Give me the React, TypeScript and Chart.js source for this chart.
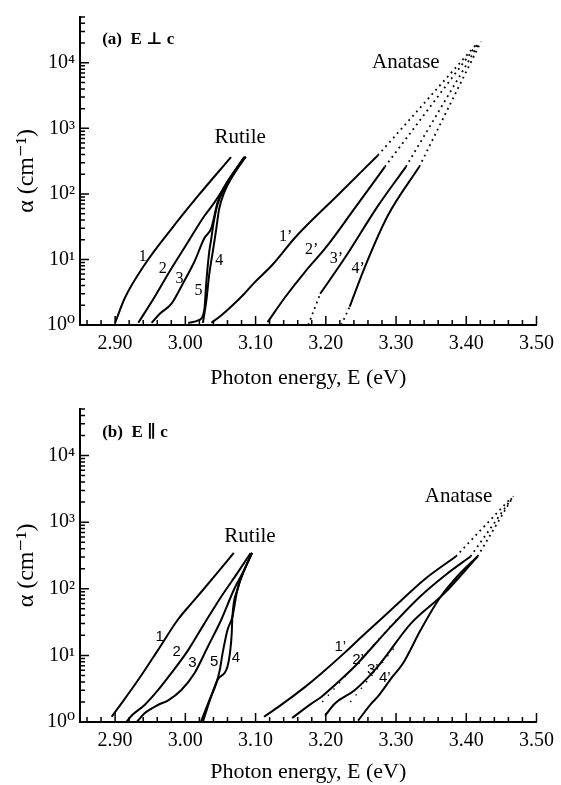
import React, { useEffect, useRef } from "react";
import { Chart, registerables } from "chart.js";

Chart.register(...registerables);

type P = [number, number];

// ---------------- axes ----------------
const xTickValues = [2.9, 3.0, 3.1, 3.2, 3.3, 3.4, 3.5];
const yTickValues = [1, 10, 100, 1000, 10000];
const yTickLabels = ["10⁰", "10¹", "10²", "10³", "10⁴"];
const xTitle = "Photon energy, E (eV)";
const yTitle = "α (cm⁻¹)";

// ---------------- panel (a) E ⊥ c ----------------
const aRutile1: P[] = [[2.9, 1.08], [2.914, 2.6], [2.942, 8.3], [2.98, 29], [3.018, 93], [3.065, 364]];
const aRutile2: P[] = [[2.933, 1.08], [2.956, 2.65], [2.975, 5.9], [3.004, 18.6], [3.027, 46], [3.041, 73], [3.065, 184], [3.084, 364]];
const aRutile3: P[] = [[2.952, 1.08], [2.964, 1.5], [2.98, 2.1], [2.996, 4.2], [3.013, 9.3], [3.027, 21], [3.037, 30], [3.046, 75], [3.055, 125], [3.067, 200], [3.084, 364]];
const aRutile4: P[] = [[3.025, 1.08], [3.03, 2.4], [3.034, 5.9], [3.039, 13], [3.044, 29], [3.048, 58], [3.055, 103], [3.067, 184], [3.086, 370]];
const aRutile5: P[] = [[3.004, 1.08], [3.02, 1.2], [3.027, 1.7], [3.03, 4.7], [3.034, 13], [3.037, 21], [3.04, 35], [3.046, 70], [3.056, 120], [3.07, 220], [3.086, 370]];
const aAnatase1: P[] = [[3.037, 1.08], [3.051, 1.4], [3.065, 1.9], [3.084, 3.0], [3.098, 4.4], [3.124, 8.3], [3.157, 22], [3.218, 98], [3.274, 386]];
const aAnatase2: P[] = [[3.117, 1.1], [3.142, 2.65], [3.171, 6.6], [3.199, 14.7], [3.24, 58], [3.284, 259]];
const aAnatase3: P[] = [[3.192, 3.0], [3.227, 10.5], [3.274, 65], [3.314, 259]];
const aAnatase4: P[] = [[3.234, 1.9], [3.255, 7.4], [3.288, 46], [3.333, 259]];
const aFit1: P[] = [[3.274, 386], [3.416, 20000]];
const aFit2: P[] = [[3.284, 259], [3.417, 20000]];
const aFit3: P[] = [[3.314, 259], [3.419, 20500]];
const aFit4: P[] = [[3.333, 259], [3.421, 21000]];
const aFit3Low: P[] = [[3.175, 1.0], [3.192, 3.0]];
const aFit4Low: P[] = [[3.222, 1.0], [3.234, 1.9]];

const aCurveNames = ["1", "2", "3", "5", "4", "1’", "2’", "3’", "4’"];
const aCurveNameE = [2.9395, 2.9678, 2.9918, 3.0186, 3.0483, 3.143, 3.18, 3.215, 3.246];
const aCurveNameA = [11.1, 7.1, 5.0, 3.3, 9.7, 22, 14, 10.3, 7.1];

// ---------------- panel (b) E ∥ c ----------------
const bRutile1: P[] = [[2.895, 1.2], [2.909, 1.9], [2.933, 4.3], [2.961, 12], [2.989, 34], [3.013, 68], [3.041, 152], [3.069, 345]];
const bRutile2: P[] = [[2.916, 1.0], [2.924, 1.26], [2.942, 1.8], [2.961, 3.0], [2.98, 5.4], [3.004, 12], [3.027, 30], [3.051, 76], [3.074, 172], [3.093, 345]];
const bRutile3: P[] = [[2.931, 1.0], [2.942, 1.35], [2.961, 1.8], [2.975, 2.1], [2.994, 3.0], [3.013, 5.4], [3.032, 13.5], [3.051, 34], [3.069, 96], [3.084, 193], [3.095, 345]];
const bRutile4: P[] = [[3.025, 1.0], [3.036, 2.3], [3.046, 4.3], [3.06, 6.8], [3.064, 12], [3.066, 21], [3.067, 38], [3.074, 96], [3.084, 193], [3.095, 345]];
const bRutile5: P[] = [[3.022, 1.0], [3.034, 2.1], [3.044, 3.8], [3.049, 6], [3.053, 10.7], [3.06, 24], [3.067, 38], [3.074, 96], [3.084, 193], [3.095, 345]];
const bAnatase1: P[] = [[3.112, 1.2], [3.133, 1.7], [3.171, 3.4], [3.194, 5.4], [3.227, 11], [3.251, 19], [3.298, 54], [3.34, 137], [3.385, 305]];
const bAnatase2: P[] = [[3.152, 1.15], [3.18, 1.9], [3.194, 2.4], [3.213, 3.6], [3.241, 6.8], [3.288, 24], [3.334, 76], [3.37, 160], [3.406, 305]];
const bAnatase3: P[] = [[3.199, 1.25], [3.213, 1.9], [3.241, 3.0], [3.274, 6.8], [3.321, 30], [3.369, 86], [3.416, 305]];
const bAnatase4: P[] = [[3.246, 1.05], [3.265, 1.9], [3.274, 2.4], [3.295, 4.8], [3.31, 7.6], [3.335, 24], [3.362, 72], [3.39, 165], [3.416, 305]];
const bFit1: P[] = [[3.385, 305], [3.462, 2200]];
const bFit2: P[] = [[3.406, 305], [3.465, 2300]];
const bFit3: P[] = [[3.416, 305], [3.467, 2450]];
const bFit2Low: P[] = [[3.195, 2.0], [3.3, 34]];
const bFit3Low: P[] = [[3.235, 2.0], [3.3, 14]];

const bCurveNames = ["1", "2", "3", "5", "4", "1’", "2’", "3’", "4’"];
const bCurveNameE = [2.9636, 2.9876, 3.01, 3.041, 3.072, 3.2206, 3.246, 3.267, 3.284];
const bCurveNameA = [19, 11.3, 7.7, 8, 9.2, 13.4, 8.6, 6.1, 4.6];

// ---------------- rendering ----------------
const SERIF = "'Liberation Serif', 'DejaVu Serif', serif";
const SANS = "'Liberation Sans', 'DejaVu Sans', sans-serif";

interface TextItem {
  text: string;
  x: number;
  y: number;
  font: string;
  align?: CanvasTextAlign;
}

interface Panel {
  solid: P[][];
  dotted: P[][];
  sparse: P[][];
  texts: TextItem[];
  height: number;
  padTop: number;
  xAxisHeight: number;
  xTitlePad: number;
}

const panelA: Panel = {
  solid: [aRutile1, aRutile2, aRutile3, aRutile4, aRutile5, aAnatase1, aAnatase2, aAnatase3, aAnatase4],
  dotted: [aFit1, aFit2, aFit3, aFit4, aFit3Low, aFit4Low],
  sparse: [],
  texts: [
    { text: "(a)  E ⊥ c", x: 2.8816, y: 22900, font: `bold 17px ${SERIF}`, align: "left" },
    { text: "Rutile", x: 3.078, y: 735, font: `21px ${SERIF}` },
    { text: "Anatase", x: 3.314, y: 10000, font: `21px ${SERIF}` },
    ...aCurveNames.map((t, i) => ({ text: t, x: aCurveNameE[i], y: aCurveNameA[i], font: `16px ${SERIF}` })),
  ],
  height: 392,
  padTop: 10,
  xAxisHeight: 67,
  xTitlePad: 1,
};

const panelB: Panel = {
  solid: [bRutile1, bRutile2, bRutile3, bRutile4, bRutile5, bAnatase1, bAnatase2, bAnatase3, bAnatase4],
  dotted: [bFit1, bFit2, bFit3],
  sparse: [bFit2Low, bFit3Low],
  texts: [
    { text: "(b)  E ∥ c", x: 2.8816, y: 22000, font: `bold 17px ${SERIF}`, align: "left" },
    { text: "Rutile", x: 3.092, y: 600, font: `21px ${SERIF}` },
    { text: "Anatase", x: 3.389, y: 2400, font: `21px ${SERIF}` },
    ...bCurveNames.map((t, i) => ({ text: t, x: bCurveNameE[i], y: bCurveNameA[i], font: `15px ${SANS}` })),
  ],
  height: 393,
  padTop: 16,
  xAxisHeight: 63,
  xTitlePad: 0,
};

function toXY(pts: P[]) {
  return pts.map(([x, y]) => ({ x, y }));
}

function buildChart(canvas: HTMLCanvasElement, panel: Panel) {
  const datasets: any[] = [
    ...panel.solid.map((pts) => ({
      data: toXY(pts),
      borderColor: "#000",
      borderWidth: 2,
      pointRadius: 0,
      fill: false,
      cubicInterpolationMode: "monotone",
    })),
    ...panel.dotted.map((pts) => ({
      data: toXY(pts),
      borderColor: "#000",
      borderWidth: 1.8,
      borderDash: [1.8, 4],
      pointRadius: 0,
      fill: false,
      tension: 0,
    })),
    ...panel.sparse.map((pts) => ({
      data: toXY(pts),
      borderColor: "#000",
      borderWidth: 1.4,
      borderDash: [1.4, 7],
      pointRadius: 0,
      fill: false,
      tension: 0,
    })),
  ];

  const deco = {
    id: "deco",
    afterDraw(chart: any) {
      const ctx: CanvasRenderingContext2D = chart.ctx;
      const xs = chart.scales.x;
      const ys = chart.scales.y;
      const { left, bottom } = chart.chartArea;
      ctx.save();
      ctx.strokeStyle = "#000";
      ctx.lineWidth = 1.5;
      ctx.beginPath();
      for (let i = 0; i <= 32; i++) {
        const v = 2.86 + i * 0.02;
        const major = i % 5 === 2;
        const px = xs.getPixelForValue(v);
        ctx.moveTo(px, bottom);
        ctx.lineTo(px, bottom - (major ? 9 : 5));
      }
      for (let d = 0; d <= 4; d++) {
        for (let k = 1; k <= 9; k++) {
          const v = k * Math.pow(10, d);
          if (v > ys.max) break;
          const py = ys.getPixelForValue(v);
          ctx.moveTo(left, py);
          ctx.lineTo(left + (k === 1 ? 9 : 5), py);
        }
      }
      ctx.stroke();
      ctx.fillStyle = "#000";
      ctx.textBaseline = "middle";
      for (const t of panel.texts) {
        ctx.font = t.font;
        ctx.textAlign = t.align ?? "center";
        ctx.fillText(t.text, xs.getPixelForValue(t.x), ys.getPixelForValue(t.y));
      }
      ctx.restore();
    },
  };

  return new Chart(canvas, {
    type: "line",
    data: { datasets },
    plugins: [deco],
    options: {
      responsive: false,
      animation: false,
      events: [],
      layout: { padding: { top: panel.padTop, right: 21, bottom: 0, left: 0 } },
      plugins: { legend: { display: false }, tooltip: { enabled: false } },
      scales: {
        x: {
          type: "linear",
          min: 2.85,
          max: 3.5,
          afterBuildTicks: (scale: any) => {
            scale.ticks = xTickValues.map((v) => ({ value: v }));
          },
          afterFit: (scale: any) => {
            scale.height = panel.xAxisHeight;
          },
          ticks: {
            autoSkip: false,
            maxRotation: 0,
            color: "#000",
            padding: 7,
            font: { family: SERIF, size: 20 },
            callback: (v: any) => Number(v).toFixed(2),
          },
          grid: { display: false, drawTicks: false },
          border: { display: true, color: "#000", width: 2 },
          title: {
            display: true,
            text: xTitle,
            color: "#000",
            font: { family: SERIF, size: 22 },
            padding: { top: 0, bottom: panel.xTitlePad },
          },
        },
        y: {
          type: "logarithmic",
          min: 1,
          max: 50000,
          afterBuildTicks: (scale: any) => {
            scale.ticks = yTickValues.map((v) => ({ value: v, major: true }));
          },
          afterFit: (scale: any) => {
            scale.width = 80;
          },
          ticks: {
            autoSkip: false,
            color: "#000",
            padding: 5,
            font: { family: SERIF, size: 20 },
            callback: (v: any) => {
              const i = yTickValues.indexOf(Number(v));
              return i >= 0 ? yTickLabels[i] : "";
            },
          },
          grid: { display: false, drawTicks: false },
          border: { display: true, color: "#000", width: 2 },
          title: {
            display: true,
            text: yTitle,
            color: "#000",
            font: { family: SERIF, size: 24 },
            padding: { top: 12, bottom: 0 },
          },
        },
      },
    } as any,
  });
}

function PanelChart({ panel, top }: { panel: Panel; top: number }) {
  const ref = useRef<HTMLCanvasElement | null>(null);
  useEffect(() => {
    if (!ref.current) return;
    const chart = buildChart(ref.current, panel);
    return () => chart.destroy();
  }, [panel]);
  return (
    <canvas
      ref={ref}
      width={561}
      height={panel.height}
      style={{ position: "absolute", left: 0, top, width: 561, height: panel.height, display: "block" }}
    />
  );
}

export default function App() {
  return (
    <div style={{ position: "absolute", left: 0, top: 0, width: 561, height: 785, background: "#fff" }}>
      <PanelChart panel={panelA} top={0} />
      <PanelChart panel={panelB} top={392} />
    </div>
  );
}
